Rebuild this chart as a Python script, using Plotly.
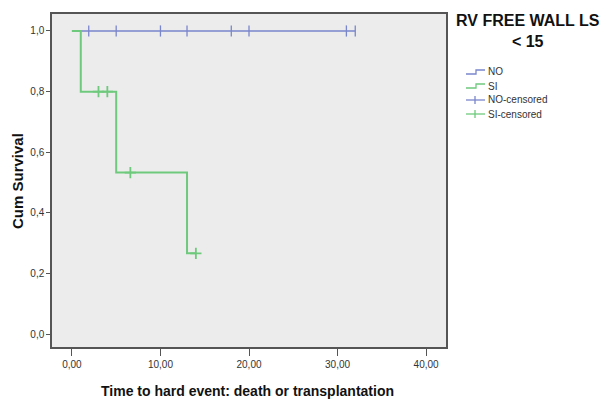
import plotly.graph_objects as go

# Kaplan-Meier step curves (time, cumulative survival)
no_time = [0, 32.0]
no_surv = [1.0, 1.0]
si_time = [0, 1.0, 5.0, 13.0, 14.0]
si_surv = [1.0, 0.8, 0.533, 0.267, 0.267]

# censored observations
no_cens_time = [1.9, 5.0, 10.0, 13.0, 18.0, 20.0, 31.0, 32.0]
no_cens_surv = [1.0, 1.0, 1.0, 1.0, 1.0, 1.0, 1.0, 1.0]
si_cens_time = [3.0, 4.0, 6.6, 14.0]
si_cens_surv = [0.8, 0.8, 0.533, 0.267]

x_ticks = [0, 10, 20, 30, 40]
x_tick_labels = ["0,00", "10,00", "20,00", "30,00", "40,00"]
y_ticks = [0.0, 0.2, 0.4, 0.6, 0.8, 1.0]
y_tick_labels = ["0,0", "0,2", "0,4", "0,6", "0,8", "1,0"]

legend_names = ["NO", "SI", "NO-censored", "SI-censored"]

BLUE = "#7a86cc"
GREEN = "#6fc97d"

W, H = 611, 399
ML, MR, MT, MB = 52, 165, 14, 52
PW, PH = W - ML - MR, H - MT - MB


def px(x):
    """pixel x -> paper x"""
    return (x - ML) / PW


def py(y):
    """pixel y -> paper y"""
    return (H - MB - y) / PH


fig = go.Figure()
fig.add_trace(go.Scatter(x=no_time, y=no_surv, mode="lines", name=legend_names[0],
                         line=dict(color=BLUE, width=1.3, shape="hv")))
fig.add_trace(go.Scatter(x=si_time, y=si_surv, mode="lines", name=legend_names[1],
                         line=dict(color=GREEN, width=2, shape="hv")))
fig.add_trace(go.Scatter(x=no_cens_time, y=no_cens_surv, mode="markers", name=legend_names[2],
                         marker=dict(symbol="line-ns-open", size=8, color=BLUE,
                                     line=dict(color=BLUE, width=1.3))))
fig.add_trace(go.Scatter(x=si_cens_time, y=si_cens_surv, mode="markers", name=legend_names[3],
                         marker=dict(symbol="cross-thin-open", size=8, color=GREEN,
                                     line=dict(color=GREEN, width=1.8))))

# legend drawn by hand: step icons for curves, crosses for censored marks
shapes = []
annotations = []
colors = [BLUE, GREEN, BLUE, GREEN]
rows = [72, 86, 100, 114]
for name, col, yy in zip(legend_names, colors, rows):
    if "censored" not in name:
        path = (f"M {px(466)},{py(yy + 2)} L {px(476)},{py(yy + 2)} "
                f"L {px(476)},{py(yy - 2)} L {px(485)},{py(yy - 2)}")
        shapes.append(dict(type="path", path=path, xref="paper", yref="paper",
                           line=dict(color=col, width=1.3)))
    else:
        shapes.append(dict(type="line", xref="paper", yref="paper",
                           x0=px(466), x1=px(485), y0=py(yy), y1=py(yy),
                           line=dict(color=col, width=1.3)))
        shapes.append(dict(type="line", xref="paper", yref="paper",
                           x0=px(475), x1=px(475), y0=py(yy - 4), y1=py(yy + 4),
                           line=dict(color=col, width=1.3)))
    annotations.append(dict(text=name, xref="paper", yref="paper", x=px(486), y=py(yy),
                            xanchor="left", yanchor="middle", showarrow=False,
                            font=dict(size=10, color="#333")))

annotations.append(dict(text="<b>RV FREE WALL LS<br>< 15</b>", xref="paper", yref="paper",
                        x=px(528), y=py(10), xanchor="center", yanchor="top", showarrow=False,
                        font=dict(size=16, color="#111")))

# axis titles
annotations.append(dict(text="<b>Time to hard event: death or transplantation</b>",
                        xref="paper", yref="paper", x=px(247), y=py(391),
                        xanchor="center", yanchor="middle", showarrow=False,
                        font=dict(size=14, color="#111")))
annotations.append(dict(text="<b>Cum Survival</b>", textangle=-90,
                        xref="paper", yref="paper", x=px(17), y=py(181),
                        xanchor="center", yanchor="middle", showarrow=False,
                        font=dict(size=15, color="#111")))

fig.update_layout(
    width=W, height=H,
    margin=dict(l=ML, r=MR, t=MT, b=MB, autoexpand=False),
    paper_bgcolor="white",
    plot_bgcolor="#ececec",
    font=dict(family="Arial, Liberation Sans, sans-serif", color="#222"),
    showlegend=False,
    shapes=shapes,
    annotations=annotations,
)
fig.update_xaxes(range=[-2.25, 42.25], tickvals=x_ticks, ticktext=x_tick_labels,
                 ticks="outside", ticklen=7, tickcolor="#555", showgrid=False, zeroline=False,
                 showline=True, linecolor="#555", linewidth=2, mirror=True,
                 tickfont=dict(size=10, color="#333"), automargin=False)
fig.update_yaxes(range=[-0.042, 1.056], tickvals=y_ticks, ticktext=y_tick_labels,
                 ticks="outside", ticklen=4, tickcolor="#555", showgrid=False, zeroline=False,
                 showline=True, linecolor="#555", linewidth=1.5, mirror=True,
                 tickfont=dict(size=10, color="#333"), automargin=False)

fig.write_html("out.html")
